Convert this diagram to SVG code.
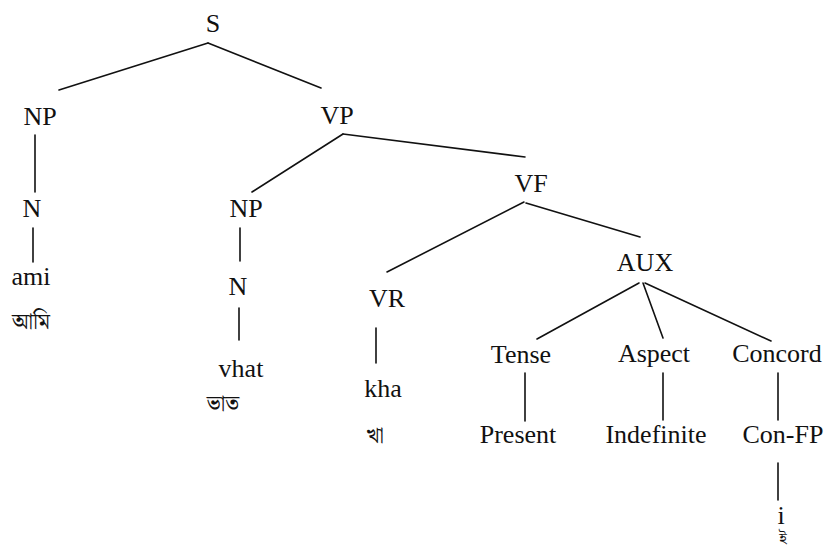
<svg xmlns="http://www.w3.org/2000/svg" width="829" height="556" viewBox="0 0 829 556">
<style>
.t{font-size:26px;fill:#111;text-anchor:middle}
.b{font-size:22px;fill:#111;text-anchor:middle}
.e line{stroke:#111;stroke-width:1.6;stroke-linecap:round}
</style>
<rect width="829" height="556" fill="#fff"/>
<g class="e" id="connectors">
<line x1="208" y1="43" x2="59" y2="90"/>
<line x1="208" y1="43" x2="321" y2="88"/>
<line x1="35" y1="135" x2="35" y2="192"/>
<line x1="33" y1="228" x2="33" y2="262"/>
<line x1="343" y1="134" x2="252" y2="192"/>
<line x1="343" y1="134" x2="525" y2="157"/>
<line x1="240" y1="228" x2="240" y2="261"/>
<line x1="239" y1="308" x2="239" y2="340"/>
<line x1="524" y1="202" x2="387" y2="272"/>
<line x1="526" y1="203" x2="640" y2="237"/>
<line x1="376" y1="328" x2="376" y2="363"/>
<line x1="639" y1="283" x2="537" y2="339"/>
<line x1="643" y1="283" x2="663" y2="338"/>
<line x1="645" y1="283" x2="771" y2="341"/>
<line x1="525" y1="373" x2="525" y2="421"/>
<line x1="663" y1="373" x2="663" y2="420"/>
<line x1="778" y1="373" x2="778" y2="420"/>
<line x1="778" y1="463" x2="778" y2="500"/>
</g>
<g font-family="Liberation Serif, DejaVu Serif, serif">
<g id="S"><text class="t" x="213" y="32">S</text></g>
<g id="NP1"><text class="t" x="40" y="125">NP</text></g>
<g id="VP"><text class="t" x="337" y="124">VP</text></g>
<g id="N1"><text class="t" x="32" y="217">N</text></g>
<g id="ami"><text class="t" x="31" y="285">ami</text><text class="b" x="31" y="329" font-family="Noto Serif Bengali, serif">আমি</text></g>
<g id="NP2"><text class="t" x="246" y="217">NP</text></g>
<g id="N2"><text class="t" x="238" y="295">N</text></g>
<g id="vhat"><text class="t" x="241" y="377">vhat</text><text class="b" x="223" y="411" font-family="Noto Serif Bengali, serif">ভাত</text></g>
<g id="VF"><text class="t" x="531" y="192">VF</text></g>
<g id="VR"><text class="t" x="387" y="307">VR</text></g>
<g id="kha"><text class="t" x="383" y="397">kha</text><text class="b" x="375" y="443" font-family="Noto Serif Bengali, serif">খা</text></g>
<g id="AUX"><text class="t" x="645" y="271">AUX</text></g>
<g id="Tense"><text class="t" x="521" y="363">Tense</text></g>
<g id="Aspect"><text class="t" x="654" y="362">Aspect</text></g>
<g id="Concord"><text class="t" x="777" y="362">Concord</text></g>
<g id="Present"><text class="t" x="518" y="443">Present</text></g>
<g id="Indefinite"><text class="t" x="656" y="443">Indefinite</text></g>
<g id="ConFP"><text class="t" x="783" y="443">Con-FP</text></g>
<g id="i"><text class="t" x="781" y="524" font-size="22">i</text><text class="b" x="783" y="544" font-family="Noto Serif Bengali, serif" style="font-size:16px">ই</text></g>
</g>
</svg>
